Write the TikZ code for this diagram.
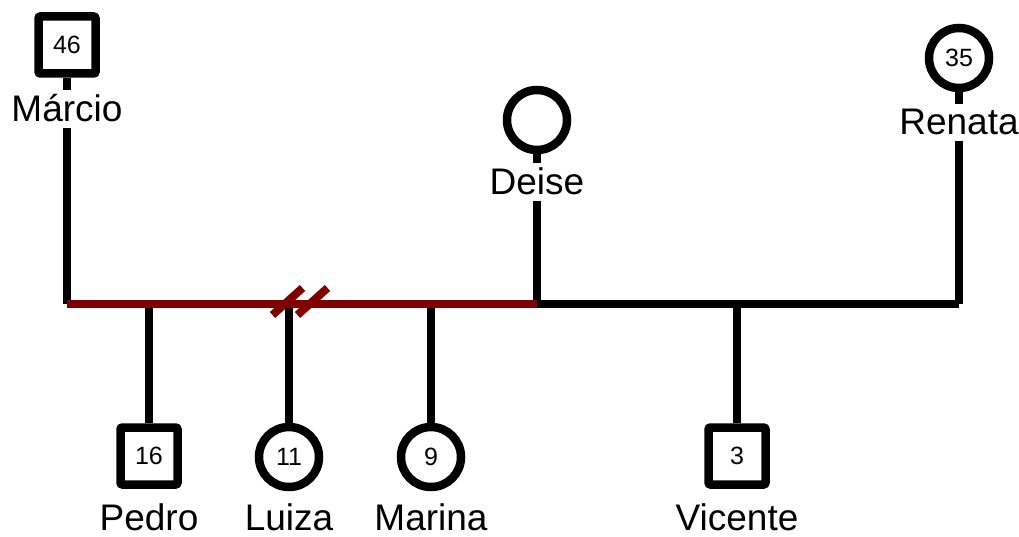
\documentclass[tikz,border=0pt]{standalone}
\usepackage{fontspec}
\setmainfont{Liberation Sans}
\definecolor{union}{RGB}{128,0,0}
\begin{document}
\begin{tikzpicture}[x=1pt,y=-1pt,
  link/.style={line width=8pt},
  person/.style={draw, line width=8.5pt, inner sep=0pt, font=\fontsize{25}{30}\selectfont},
  male/.style={person, rectangle, rounded corners=2pt, minimum size=57pt},
  female/.style={person, circle, minimum size=60pt},
  nametag/.style={anchor=base, inner sep=5pt, font=\fontsize{37}{44}\selectfont}]
\useasboundingbox (0,0) rectangle (1019,537);

% parents
\node[male]   (marcio) at (67,45)   {46};
\node[female] (deise)  at (537,120) {};
\node[female] (renata) at (959,58)  {35};
\node[nametag] (marcioN) at (67,122)  {Márcio};
\node[nametag] (deiseN)  at (537,195) {Deise};
\node[nametag] (renataN) at (959,135) {Renata};

% children
\node[male]   (pedro)   at (149,456) {16};
\node[female] (luiza)   at (289,457) {11};
\node[female] (marina)  at (431,457) {9};
\node[male]   (vicente) at (737,456) {3};
\node[nametag] (pedroN)   at (149,530) {Pedro};
\node[nametag] (luizaN)   at (289,530) {Luiza};
\node[nametag] (marinaN)  at (431,530) {Marina};
\node[nametag] (vicenteN) at (737,530) {Vicente};

% union line
\coordinate (u1) at (67,303.5);
\coordinate (u2) at (537,303.5);
\coordinate (u3) at (959,303.5);

\draw[link] (marcio) -- (marcioN);
\draw[link] (marcioN) -- (u1);
\draw[link] (deise) -- (deiseN);
\draw[link] (deiseN) -- (u2);
\draw[link] (renata) -- (renataN);
\draw[link] (renataN) -- (u3);

\draw[link] (pedro |- u1) -- (pedro);
\draw[link] (luiza |- u1) -- (luiza);
\draw[link] (marina |- u1) -- (marina);
\draw[link] (vicente |- u1) -- (vicente);

\draw[link, union] (u1) -- (u2);
\draw[link] (u2) -- (u3);

% divorce marks
\draw[link, union] (272.5,315) -- (302.5,288);
\draw[link, union] (297.5,315) -- (327.5,288);
\end{tikzpicture}
\end{document}
